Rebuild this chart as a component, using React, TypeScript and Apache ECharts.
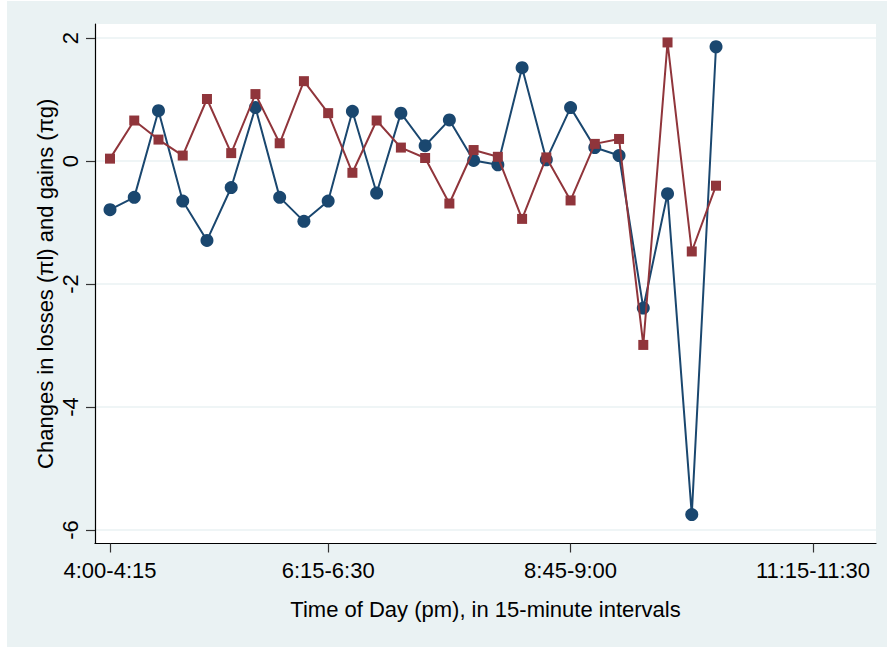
import React, { useEffect, useRef } from "react";
import * as echarts from "echarts";

const categories = [
  "4:00-4:15", "4:15-4:30", "4:30-4:45", "4:45-5:00", "5:00-5:15", "5:15-5:30",
  "5:30-5:45", "5:45-6:00", "6:00-6:15", "6:15-6:30", "6:30-6:45", "6:45-7:00",
  "7:00-7:15", "7:15-7:30", "7:30-7:45", "7:45-8:00", "8:00-8:15", "8:15-8:30",
  "8:30-8:45", "8:45-9:00", "9:00-9:15", "9:15-9:30", "9:30-9:45", "9:45-10:00",
  "10:00-10:15", "10:15-10:30", "10:30-10:45", "10:45-11:00", "11:00-11:15", "11:15-11:30",
];

const xTickIndices = [0, 9, 19, 29];
const yTickValues = [-6, -4, -2, 0, 2];

// Changes in losses (πl) – navy circles
const lossValues = [
  -0.79, -0.59, 0.82, -0.65, -1.29, -0.43, 0.87, -0.59, -0.98, -0.65,
  0.81, -0.52, 0.78, 0.25, 0.67, 0.01, -0.06, 1.52, 0.02, 0.87,
  0.22, 0.09, -2.39, -0.53, -5.75, 1.86,
];

// Changes in gains (πg) – maroon squares
const gainValues = [
  0.04, 0.66, 0.35, 0.09, 1.01, 0.13, 1.09, 0.29, 1.30, 0.78,
  -0.19, 0.66, 0.22, 0.05, -0.69, 0.18, 0.07, -0.94, 0.06, -0.64,
  0.28, 0.36, -2.99, 1.93, -1.47, -0.40,
];

const FONT = "'Liberation Sans', Arial, Helvetica, sans-serif";
const BG = "#EAF2F3";

export default function App() {
  const ref = useRef<HTMLDivElement>(null);

  useEffect(() => {
    if (!ref.current) return;
    const chart = echarts.init(ref.current, undefined, { renderer: "svg" });
    const toPairs = (arr: number[]) => arr.map((v, i) => [i, v]);

    chart.setOption({
      animation: false,
      backgroundColor: BG,
      graphic: [
        { type: "rect", shape: { x: 0, y: 0, width: 7, height: 647 }, style: { fill: "#fff" }, silent: true },
        { type: "rect", shape: { x: 0, y: 0, width: 887, height: 1 }, style: { fill: "#fff" }, silent: true },
      ],
      grid: {
        left: 95,
        right: 11,
        top: 24,
        bottom: 103.5,
        show: true,
        backgroundColor: "#fff",
        borderWidth: 0,
      },
      xAxis: {
        type: "value",
        min: -0.619,
        max: 31.6,
        name: "Time of Day (pm), in 15-minute intervals",
        nameLocation: "middle",
        nameGap: 55,
        nameMoveOverlap: false,
        nameTextStyle: { fontFamily: FONT, fontSize: 22, color: "#000" },
        axisLine: { show: true, onZero: false, lineStyle: { color: "#000", width: 1.2 } },
        axisTick: {
          show: true,
          length: 9,
          customValues: xTickIndices,
          lineStyle: { color: "#333", width: 1.2 },
        },
        axisLabel: {
          customValues: xTickIndices,
          formatter: (v: number) => categories[Math.round(v)] ?? "",
          fontFamily: FONT,
          fontSize: 22,
          color: "#000",
          margin: 16,
        },
        splitLine: { show: false },
      },
      yAxis: {
        type: "value",
        min: -6.22,
        max: 2.23,
        name: "Changes in losses (πl) and gains (πg)",
        nameLocation: "middle",
        nameGap: 39,
        nameMoveOverlap: false,
        nameTextStyle: { fontFamily: FONT, fontSize: 22, color: "#000" },
        axisLine: { show: true, onZero: false, lineStyle: { color: "#000", width: 1.2 } },
        axisTick: {
          show: true,
          length: 9,
          customValues: yTickValues,
          lineStyle: { color: "#333", width: 1.2 },
        },
        axisLabel: {
          customValues: yTickValues,
          rotate: 90,
          fontFamily: FONT,
          fontSize: 22,
          color: "#000",
          margin: 14,
        },
        splitLine: { show: true, lineStyle: { color: BG, width: 1.5 } },
      },
      series: [
        {
          type: "line",
          data: toPairs(lossValues),
          symbol: "circle",
          symbolSize: 13,
          showAllSymbol: true,
          lineStyle: { color: "#1A476F", width: 2 },
          itemStyle: { color: "#1A476F" },
          z: 3,
        },
        {
          type: "line",
          data: toPairs(gainValues),
          symbol: "rect",
          symbolSize: 10,
          showAllSymbol: true,
          lineStyle: { color: "#90353B", width: 2 },
          itemStyle: { color: "#90353B" },
          z: 4,
        },
      ],
    });

    return () => chart.dispose();
  }, []);

  return (
    <div
      ref={ref}
      style={{ position: "absolute", left: 0, top: 0, width: 887, height: 647 }}
    />
  );
}
